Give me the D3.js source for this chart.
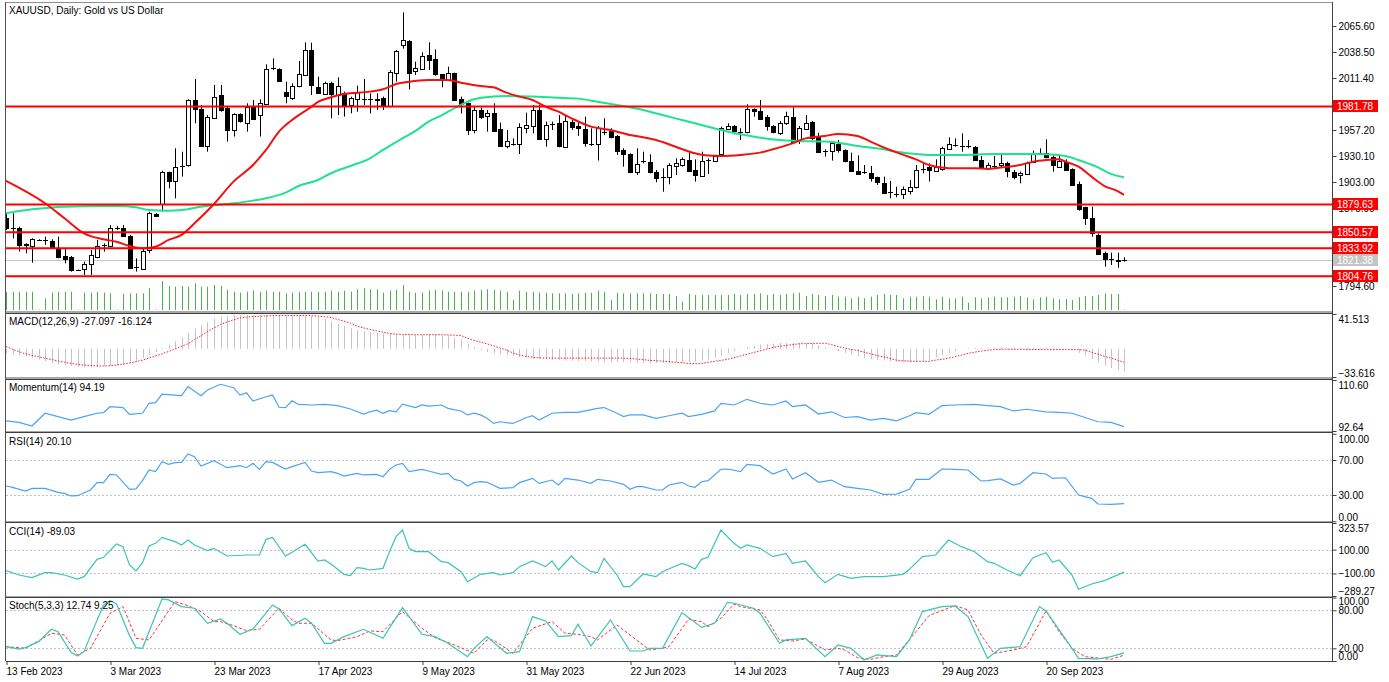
<!DOCTYPE html>
<html>
<head>
<meta charset="utf-8">
<script src="https://cdn.jsdelivr.net/npm/d3@7"></script>
<style>
body { margin: 0; background: #fff; }
svg { display: block; font-family: "Liberation Sans", Arial, sans-serif; font-size: 10px; }
</style>
</head>
<body>
<script>
// ---------- data ----------
const opens = [1865.2,1855.4,1855.4,1838.1,1835.6,1842.6,1842.6,1841.9,1833.9,1825.9,1824.5,1811.3,1812.0,1817.2,1825.2,1836.7,1836.3,1855.0,1854.7,1846.7,1814.1,1813.0,1831.5,1869.7,1880.8,1913.1,1904.1,1919.5,1920.7,1988.5,1978.8,1939.8,1970.4,1993.7,1979.8,1957.2,1973.5,1964.9,1981.5,1972.8,1984.3,2021.2,2020.8,1996.5,1991.3,2003.1,2014.5,2040.6,2001.7,1994.7,2005.8,1994.4,1995.4,1983.3,1989.5,1989.5,1989.8,1988.5,1990.9,1982.2,2017.3,2045.8,2050.0,2018.0,2020.8,2035.4,2030.9,2015.2,2009.3,2016.3,1989.2,1985.0,1957.2,1978.1,1971.8,1975.3,1958.3,1940.5,1942.6,1943.3,1959.0,1961.4,1978.1,1947.5,1963.1,1964.2,1939.8,1965.9,1961.4,1957.9,1942.9,1942.6,1955.5,1956.2,1951.0,1936.4,1932.2,1913.1,1924.9,1923.5,1913.8,1907.9,1908.6,1919.7,1920.7,1925.9,1915.5,1909.3,1925.3,1925.3,1932.2,1957.9,1961.4,1954.8,1954.4,1978.8,1977.4,1970.4,1961.4,1954.4,1964.9,1971.1,1946.8,1959.0,1965.9,1950.3,1934.6,1934.6,1942.6,1936.4,1925.3,1914.8,1913.8,1912.7,1907.9,1902.3,1891.9,1890.5,1890.2,1892.9,1897.5,1916.6,1918.3,1914.8,1916.2,1937.4,1941.6,1940.5,1940.5,1939.8,1925.9,1917.3,1919.7,1920.7,1922.5,1913.8,1909.6,1911.4,1924.2,1932.9,1933.6,1929.4,1919.0,1924.2,1916.2,1900.9,1876.6,1865.2,1847.8,1828.7,1822.4,1822.0,1821.0];
const highs = [1870.4,1870.4,1856.4,1839.1,1844.3,1843.3,1846.0,1843.3,1846.0,1833.9,1825.9,1811.8,1820.0,1832.1,1842.6,1839.1,1858.2,1857.2,1858.2,1847.8,1823.5,1833.9,1872.1,1870.4,1914.8,1913.8,1938.1,1934.6,1989.2,2010.4,1983.3,1972.8,2004.1,2004.1,1981.5,1974.6,1974.6,1985.0,1988.5,1989.2,2025.7,2031.9,2021.5,2007.6,2005.8,2029.1,2048.6,2048.2,2012.8,2007.6,2007.6,2012.1,1997.2,1992.0,2003.4,2010.4,1995.4,1995.4,1992.0,2019.7,2040.6,2079.8,2051.0,2028.4,2038.2,2048.6,2041.3,2015.6,2023.2,2017.0,1992.0,1985.7,1981.5,1980.8,1978.1,1985.0,1964.9,1957.2,1948.5,1964.2,1975.3,1983.3,1983.3,1965.9,1965.9,1972.8,1972.8,1967.6,1965.9,1971.1,1959.0,1961.4,1969.4,1959.0,1952.0,1938.1,1932.9,1938.1,1934.6,1931.9,1915.5,1917.3,1922.5,1927.7,1928.7,1933.6,1926.6,1934.6,1927.7,1931.2,1960.7,1964.2,1962.4,1959.0,1984.0,1979.8,1988.5,1972.8,1962.4,1966.6,1976.3,1980.8,1961.4,1972.8,1966.6,1954.4,1937.1,1945.8,1946.8,1937.1,1933.6,1930.8,1920.7,1919.7,1908.6,1908.6,1904.1,1898.2,1898.2,1905.1,1920.7,1922.5,1922.5,1926.6,1939.8,1949.6,1948.5,1953.7,1946.8,1940.5,1930.1,1923.2,1930.1,1931.2,1924.2,1915.5,1913.8,1924.2,1935.7,1938.1,1947.5,1932.2,1931.2,1926.6,1917.3,1903.4,1877.3,1877.3,1849.5,1830.4,1829.4,1829.4,1824.5];
const lows = [1853.0,1844.3,1830.4,1828.7,1818.9,1842.0,1837.4,1833.9,1823.5,1818.2,1809.6,1810.6,1806.1,1806.1,1823.5,1830.4,1835.6,1853.0,1846.0,1813.0,1809.6,1812.0,1828.7,1867.0,1872.1,1896.4,1886.0,1908.6,1919.0,1964.2,1939.8,1934.6,1969.4,1976.3,1945.1,1950.3,1964.9,1955.5,1968.7,1950.3,1983.3,2019.7,2007.6,1985.0,1988.5,2001.7,2013.5,1993.7,1994.7,1993.7,1969.4,1972.8,1971.1,1974.6,1976.3,1983.3,1974.6,1978.1,1978.1,1980.8,2007.6,2042.0,1999.6,2014.5,2019.7,2019.7,2013.8,2001.7,2008.3,1987.4,1974.6,1952.0,1953.7,1968.7,1955.5,1955.5,1939.8,1938.1,1940.9,1932.2,1953.7,1953.7,1947.5,1939.8,1957.2,1939.2,1939.2,1957.2,1951.0,1939.8,1940.5,1925.3,1952.0,1948.5,1931.2,1919.0,1912.1,1910.3,1922.5,1912.1,1902.7,1892.9,1900.6,1910.3,1919.0,1914.1,1903.4,1908.6,1911.4,1924.2,1931.2,1957.2,1952.7,1946.8,1953.7,1971.1,1968.4,1956.5,1953.7,1952.0,1962.4,1944.0,1942.6,1957.2,1946.8,1933.6,1929.4,1925.3,1933.6,1923.5,1913.8,1911.0,1911.4,1903.4,1899.9,1891.2,1886.0,1887.0,1885.3,1890.2,1896.4,1912.1,1903.4,1913.8,1914.8,1936.4,1939.8,1934.6,1938.1,1925.3,1916.6,1915.5,1917.3,1917.3,1907.9,1905.8,1901.6,1910.3,1923.2,1931.2,1927.7,1913.8,1918.0,1914.8,1898.8,1873.1,1858.2,1846.0,1826.9,1814.8,1816.5,1813.7,1820.0];
const closes = [1854.7,1855.0,1837.4,1836.7,1843.3,1842.8,1842.3,1834.9,1824.2,1823.1,1810.6,1811.0,1817.2,1826.9,1836.7,1836.9,1854.7,1855.4,1846.7,1813.7,1814.4,1831.5,1870.4,1867.6,1913.8,1904.1,1919.0,1919.7,1988.5,1978.8,1940.5,1970.4,1992.0,1978.1,1957.2,1973.5,1965.9,1981.5,1969.4,1985.0,2020.8,2021.5,2008.6,1992.0,2003.4,2015.2,2040.6,2004.1,1995.4,2005.8,1994.7,2003.4,1983.3,1990.2,1997.2,1989.8,1989.5,1989.5,1982.2,2018.0,2039.9,2051.0,2017.0,2021.5,2034.7,2030.2,2015.2,2010.0,2017.0,1988.5,1984.3,1957.2,1978.1,1971.1,1975.3,1956.5,1940.5,1946.1,1942.9,1960.7,1962.4,1978.1,1947.8,1962.4,1963.4,1939.8,1966.6,1960.7,1959.0,1943.3,1942.6,1959.6,1955.2,1950.3,1935.7,1932.2,1913.1,1921.4,1924.6,1913.1,1907.5,1907.6,1920.7,1922.5,1926.6,1914.8,1910.3,1924.9,1925.6,1930.1,1959.0,1961.4,1956.5,1955.1,1978.8,1977.0,1969.4,1960.7,1954.8,1964.9,1971.8,1945.1,1959.0,1964.9,1949.6,1934.6,1934.9,1943.3,1936.4,1925.3,1914.5,1912.1,1913.5,1907.5,1902.3,1891.9,1892.2,1890.2,1895.4,1897.5,1915.5,1916.9,1914.8,1919.0,1938.1,1942.6,1941.9,1940.2,1940.8,1925.9,1917.3,1920.7,1920.0,1923.2,1913.8,1908.6,1912.1,1923.2,1933.6,1933.2,1929.4,1920.7,1925.3,1915.5,1899.9,1874.5,1865.2,1849.5,1828.0,1822.4,1822.1,1821.0,1821.38];
const volumes = [180,183,183,183,183,5,117,173,183,183,183,5,173,173,183,173,167,5,160,167,167,167,217,5,290,240,233,240,233,267,233,233,250,240,200,183,173,183,193,183,193,183,183,167,173,183,183,183,183,183,193,183,193,183,207,217,207,207,173,193,200,250,183,173,173,193,200,193,183,183,183,183,193,200,207,200,193,183,100,193,183,183,173,173,167,167,167,160,167,173,173,193,183,100,173,167,167,167,167,167,160,160,160,140,83,160,150,150,150,150,150,150,160,150,160,160,167,150,160,150,160,167,173,140,160,150,140,150,133,133,117,133,117,133,150,160,150,150,117,133,133,140,133,107,133,117,117,133,73,127,117,127,133,127,127,133,140,127,107,127,133,117,107,110,100,127,140,140,150,167,160,160,5];

// moving averages, [bar, price]
const maRed = [[0,1904.1],[6,1880.8],[9,1865.2],[12,1849.5],[15,1843.3],[17,1840.8],[19,1836.3],[21,1833.9],[23,1835.6],[25,1842.6],[27,1847.8],[29,1859.9],[32,1880.1],[35,1903.4],[38,1920.7],[40,1936.4],[42,1955.5],[44,1967.6],[47,1981.5],[48,1986.5],[50,1991.3],[52,1994.7],[56,1997.2],[58,1999.6],[60,2005.1],[62,2007.6],[65,2009.3],[68,2009.3],[70,2006.5],[73,2003.1],[75,2001.7],[77,1996.1],[79,1992.0],[81,1988.5],[83,1981.5],[85,1976.3],[87,1969.4],[90,1960.7],[93,1957.2],[96,1952.0],[98,1949.6],[100,1946.8],[103,1939.8],[106,1932.9],[108,1930.5],[110,1930.1],[113,1931.2],[116,1933.6],[118,1937.1],[121,1943.3],[123,1948.5],[126,1951.0],[128,1953.0],[131,1951.0],[133,1945.1],[136,1936.4],[138,1931.5],[140,1926.6],[142,1920.7],[145,1917.3],[147,1917.3],[149,1917.3],[151,1916.6],[153,1918.0],[156,1920.7],[158,1924.2],[160,1925.9],[162,1926.6],[163,1924.2],[165,1919.0],[167,1908.6],[169,1898.8],[171,1893.6],[172,1889.5]];
const maGreen = [[0,1870.4],[4,1874.5],[9,1877.3],[15,1878.0],[17,1878.0],[20,1876.6],[22,1873.8],[25,1873.1],[27,1873.8],[30,1877.3],[35,1880.8],[38,1883.6],[40,1886.0],[43,1891.9],[45,1898.8],[48,1905.1],[50,1912.1],[53,1919.7],[56,1927.7],[58,1936.4],[61,1948.5],[63,1956.2],[65,1965.9],[67,1972.5],[70,1983.3],[72,1989.2],[75,1992.0],[77,1992.6],[81,1992.0],[85,1990.9],[88,1989.9],[91,1986.7],[95,1982.2],[98,1978.1],[101,1972.8],[104,1967.6],[107,1962.4],[110,1957.2],[113,1952.7],[116,1949.2],[119,1946.8],[122,1945.8],[126,1945.1],[128,1944.0],[131,1940.5],[135,1937.1],[137,1934.6],[140,1932.2],[142,1931.2],[147,1931.2],[152,1932.2],[158,1932.2],[160,1931.9],[163,1930.1],[165,1925.9],[168,1918.3],[170,1911.4],[172,1907.9]];

const levels = [1981.78, 1879.63, 1850.57, 1833.92, 1804.76];
const lastPrice = 1821.38;
const priceTicks = [2065.6, 2038.5, 2011.4, 1984.3, 1957.2, 1930.1, 1903.0, 1875.9, 1848.8, 1821.7, 1794.6];

const macdMain = [-6,-7,-8,-9,-11,-13,-15,-17,-18.5,-19.5,-20.5,-21.5,-22,-22,-21.5,-21,-20,-19.5,-18.5,-17,-15,-11,-7,-4,1,5,9,14,19,24,28,32,36,38.5,39.5,40,40.2,40.3,40.2,40.3,40.2,40.1,40,40,40,40,40,39,38,35.5,33,30,27,24.5,22,21,20,19,18.5,17.8,17,17,16.9,16.8,16.8,16.8,16.8,16,15,13.5,11,6,2,-2,-4,-5.5,-6.5,-7.5,-8.5,-9.5,-10.5,-11.5,-12,-12.5,-13,-13.5,-14,-14.2,-14.5,-14.8,-15,-15.3,-15.5,-15.7,-15.8,-16,-16.3,-16.5,-16.7,-17,-17,-17,-16.8,-16.5,-16.3,-16,-15,-14,-13,-10.5,-8,-5.5,-3,-0.5,2,3.5,5,6,6.5,7,7,7,6.8,6.5,6,4,2,-0.5,-3,-5,-7,-9,-11,-12.5,-13.5,-14,-15,-15.8,-16,-16,-15.5,-15,-13,-10,-7.5,-5,-3,0,0.8,1,1,1.2,1.2,1.2,1,1,1,1,1,1.2,1.5,1,0.5,0,-1.5,-5,-8,-12,-16,-20,-23,-25.5,-27.097];
const macdSignal = [2.8,-0.5,-3.5,-6,-7.8,-9.5,-11.1,-12.8,-14.5,-16,-17.3,-18.5,-19.4,-20,-20.4,-20.5,-20.1,-19.3,-18.3,-16.8,-15.3,-13.5,-11.1,-8.5,-6,-3.2,-0.2,2.9,6.1,11,15.5,20.5,25,29,32,34.5,36.7,37.8,38.4,38.7,39.2,39.6,39.7,39.7,39.7,39.7,39.7,39.5,39,38.3,37.5,35,33,30.5,27,25,23,21.5,19.8,18.3,17.5,17.2,16.9,16.8,16.8,16.8,16.8,16.8,16.5,16.2,15.9,12.5,10,8,6,3.5,1,-1.5,-5,-7.5,-9,-10,-10.8,-11.1,-11.1,-11.1,-11.1,-11.1,-11.1,-11.1,-11.1,-11.1,-11.1,-11.1,-11.1,-11.1,-11.5,-12.2,-13,-13.7,-14.3,-14.6,-15.3,-16,-16.6,-17.5,-17.8,-17.5,-16,-15,-13.8,-12.5,-10.7,-8.5,-6.5,-4.5,-2.5,-0.5,1.5,3,4,5,6,6.2,6.4,6.6,6.6,5,2.8,1,-0.8,-2,-4,-6,-8,-9.6,-11.5,-13.5,-14.4,-14.7,-14.9,-15,-14.9,-13.5,-12.5,-11.1,-9.5,-7.5,-5.5,-4,-2.8,-1.8,-1,-0.6,-0.4,-0.5,-0.6,-0.7,-0.8,-0.9,-0.9,-0.9,-0.9,-0.9,-0.9,-0.9,-1.5,-4.1,-6.5,-9,-11.1,-13.5,-16.124];

const momentum = [[0,96.2],[2,95.7],[4,94.4],[6,98.9],[8,97.7],[10,96.5],[12,97.7],[14,98.9],[15,99.1],[16,101.2],[18,100.9],[19,98.5],[21,98.9],[22,102.4],[23,102.6],[24,105.6],[26,105.3],[27,105.1],[28,108.3],[30,105.1],[31,107.1],[33,109.1],[35,107.9],[36,105.3],[37,106.1],[38,103.2],[40,104.7],[41,105.3],[42,101.0],[43,100.9],[44,103.3],[45,102.0],[47,101.8],[49,102.0],[51,101.6],[53,100.4],[55,98.6],[56,99.4],[57,100.0],[58,98.9],[59,99.8],[60,99.4],[61,102.1],[63,100.9],[64,101.8],[65,101.4],[67,101.8],[68,100.6],[70,99.7],[71,98.3],[72,98.9],[73,98.3],[74,97.1],[75,95.3],[76,95.9],[78,95.3],[80,97.3],[81,98.0],[82,96.5],[84,98.9],[86,99.2],[88,99.2],[91,100.6],[92,100.9],[94,98.9],[95,97.7],[96,98.3],[98,98.3],[100,97.1],[102,98.0],[104,98.9],[105,97.7],[107,98.5],[109,99.7],[110,102.4],[112,101.8],[114,103.8],[116,102.4],[118,101.8],[120,103.2],[121,101.2],[123,101.8],[125,98.6],[127,99.4],[129,97.4],[131,97.7],[133,96.5],[135,97.1],[137,96.2],[139,98.0],[140,99.1],[142,98.5],[144,101.6],[146,101.8],[149,102.0],[151,101.6],[153,101.2],[155,99.7],[157,100.3],[160,99.4],[162,99.2],[164,98.9],[166,97.4],[168,95.9],[170,95.7],[172,94.19]];
const rsi = [[0,40.3],[1,38.8],[3,34.5],[4,37.6],[6,37.6],[8,33.0],[9,31.9],[10,28.9],[11,29.2],[13,35.7],[14,44.1],[15,44.1],[16,53.6],[17,52.9],[19,36.5],[20,36.9],[21,46.4],[22,58.6],[23,56.7],[24,68.1],[25,65.0],[26,66.9],[27,67.3],[28,76.9],[29,73.8],[30,63.1],[32,69.2],[34,61.2],[35,62.4],[36,63.5],[37,61.2],[38,66.2],[39,59.3],[40,68.1],[41,67.3],[43,59.7],[44,62.4],[46,67.3],[47,57.4],[48,55.5],[50,56.7],[51,54.8],[52,51.7],[54,54.8],[55,52.9],[57,53.6],[58,50.9],[59,59.3],[60,64.3],[61,66.2],[62,56.7],[64,59.3],[65,57.4],[67,53.6],[68,54.8],[69,47.9],[70,46.0],[71,40.3],[72,44.1],[73,45.2],[74,44.5],[76,37.6],[78,38.4],[79,44.1],[81,49.0],[82,43.3],[84,47.1],[85,41.4],[86,49.0],[88,47.1],[90,43.3],[91,47.9],[93,46.0],[95,42.2],[96,36.5],[97,39.5],[98,39.5],[100,35.7],[101,35.7],[102,41.4],[104,44.5],[105,40.3],[106,38.8],[107,45.2],[108,46.4],[110,59.3],[111,59.7],[113,56.7],[114,65.0],[116,63.5],[118,54.0],[120,59.7],[121,48.3],[123,55.5],[125,44.5],[127,47.1],[129,39.5],[131,37.6],[133,35.7],[135,30.8],[137,31.1],[139,36.5],[140,47.9],[142,47.9],[144,59.7],[146,59.3],[148,58.6],[150,46.0],[151,46.4],[153,48.3],[155,41.4],[156,43.3],[158,55.5],[160,54.0],[161,49.0],[163,49.7],[165,30.0],[167,26.2],[168,19.7],[170,19.3],[172,20.1]];
const cci = [[0,-76.5],[2,-112.9],[4,-135.3],[6,-93.3],[7,-93.3],[9,-112.9],[11,-146.5],[12,-126.9],[14,18.6],[15,35.4],[17,147.3],[18,124.9],[19,-28.9],[20,-79.3],[21,-9.4],[22,130.5],[23,152.9],[24,203.2],[26,167.0],[27,138.9],[28,181.0],[29,138.9],[31,91.3],[32,110.9],[34,46.6],[37,55.0],[39,55.0],[40,186.5],[41,203.2],[43,46.6],[44,77.3],[46,144.5],[48,4.6],[49,13.0],[50,-20.6],[52,-107.3],[53,-118.5],[54,-51.4],[55,-57.0],[56,-71.0],[58,-57.0],[59,83.0],[60,208.9],[61,264.8],[62,111.0],[63,83.0],[65,83.0],[67,-0.9],[68,-9.4],[70,-84.9],[71,-168.9],[73,-107.3],[75,-93.3],[76,-112.9],[78,-93.3],[79,-43.0],[81,4.6],[83,-43.0],[84,4.6],[85,-71.0],[87,46.6],[88,-9.4],[90,-84.9],[91,-93.3],[92,26.9],[94,-112.9],[95,-210.8],[96,-210.8],[98,-104.5],[100,-126.9],[101,-84.9],[103,-37.4],[104,-15.0],[105,-34.6],[106,-62.5],[107,18.6],[108,35.4],[110,264.8],[112,152.9],[113,110.9],[114,138.9],[116,110.9],[118,41.0],[120,68.9],[121,-14.9],[123,4.6],[125,-126.9],[126,-177.3],[128,-107.3],[130,-140.9],[132,-126.9],[135,-126.9],[138,-107.3],[139,-65.3],[141,41.0],[143,55.0],[145,181.0],[147,124.9],[149,83.0],[151,-0.9],[152,-15.0],[154,-71.0],[156,-118.5],[158,32.6],[160,74.5],[161,-6.6],[162,13.0],[164,-112.9],[165,-233.2],[167,-188.5],[169,-160.5],[172,-89.03]];
const stochMain = [[0,22.6],[2,18.9],[3,21.1],[5,30.5],[7,50.0],[8,46.3],[10,13.7],[11,7.9],[12,14.7],[13,40],[15,88],[16,95],[17,90],[18,65],[19,40],[20,21.1],[21,20.0],[24,97.9],[25,96.3],[27,85.8],[29,83.2],[31,59.5],[33,66.3],[34,59.5],[36,42.1],[38,50.5],[41,88.4],[42,82.1],[44,55.8],[46,67.4],[47,59.5],[49,27.9],[50,27.9],[52,38.4],[55,50.0],[58,35.8],[61,84.2],[64,42.1],[66,38.4],[68,27.9],[71,6.8],[72,20.0],[74,38.4],[77,12.1],[79,14.7],[81,70.0],[83,63.2],[85,38.4],[87,40.0],[88,57.9],[90,23.7],[93,64.7],[96,15.8],[98,15.8],[99,20.0],[101,20.0],[104,76.3],[105,68.5],[107,53],[109,59.5],[111,92.6],[112,91.1],[115,83.2],[116,75.3],[119,27.9],[120,33.2],[123,35.8],[126,6.8],[128,25.3],[130,20.0],[132,1.6],[134,9.5],[137,6.8],[139,33.2],[141,77.9],[144,85.8],[146,86.8],[148,70.0],[151,4.2],[153,20.0],[156,22.6],[159,85.8],[160,78.9],[164,20.0],[165,4.2],[168,3.2],[170,6.8],[172,12.74]];
const stochSignal = [[0,22.6],[3,20.0],[7,43.7],[9,41.1],[11,9.5],[13,20.0],[16,75.3],[18,85.8],[20,35.8],[22,33.2],[26,93.7],[28,87.4],[30,77.9],[32,62.1],[33,62.1],[35,55.8],[37,47.9],[39,50.0],[42,83.2],[44,64.7],[45,59.5],[47,59.5],[50,33.2],[51,32.1],[54,38.4],[56,47.4],[58,46.3],[61,77.9],[64,51.6],[66,36.8],[69,25.3],[72,12.1],[74,33.2],[75,33.2],[78,12.1],[81,51.6],[84,62.1],[86,43.7],[88,42.1],[90,38.4],[91,33.2],[94,56.8],[97,33.2],[99,17.4],[101,20.0],[102,22.6],[105,66],[107,62],[108,54.2],[110,67.4],[112,89.5],[113,85.8],[116,80.5],[117,67.4],[119,33.2],[121,31.6],[123,34.7],[126,17.4],[128,20.0],[129,17.4],[131,5.3],[133,2.6],[135,6.8],[137,9.5],[140,46.3],[142,71.6],[146,87.4],[148,80.5],[150,41.1],[152,12.1],[155,17.4],[157,22.6],[160,78.9],[162,46.3],[164,20.0],[166,6.8],[170,2.6],[172,9.25]];

const dateLabels = ["13 Feb 2023","3 Mar 2023","23 Mar 2023","17 Apr 2023","9 May 2023","31 May 2023","22 Jun 2023","14 Jul 2023","7 Aug 2023","29 Aug 2023","20 Sep 2023"];
const dateBars = [0,16,32,48,64,80,96,112,128,144,160];

// ---------- layout ----------
const W = 1389, H = 682;
const xL = 6, xR = 1332;
const n = closes.length;

const svg = d3.select("body").append("svg")
    .attr("width", W)
    .attr("height", H);

const x = d3.scaleLinear().domain([0, n - 1]).range([6, 6 + 6.5 * (n - 1)]);
const px = i => Math.round(x(i)) + 0.5;   // crisp 1px lines

// panels: top / bottom of the drawing area
const panels = [
    {name: "main", top: 3, bottom: 311},
    {name: "macd", top: 314, bottom: 377},
    {name: "mom", top: 380, bottom: 431},
    {name: "rsi", top: 433, bottom: 521},
    {name: "cci", top: 523, bottom: 596},
    {name: "sto", top: 598, bottom: 661}
];

const yMain = d3.scaleLinear().domain([1794.6, 2065.6]).range([286, 26]);
const yVol = d3.scaleLinear().domain([0, 300]).range([310, 280]);
const yMacd = d3.scaleLinear().domain([-33.616, 41.513]).range([377, 314]);
const yMom = d3.scaleLinear().domain([92.64, 110.60]).range([431, 380]);
const yRsi = d3.scaleLinear().domain([0, 100]).range([521.25, 433.75]);
const yCci = d3.scaleLinear().domain([-289.27, 323.57]).range([596, 523]);
const ySto = d3.scaleLinear().domain([0, 100]).range([661, 597.6]);

const defs = svg.append("defs");
panels.forEach(p => {
    defs.append("clipPath").attr("id", "clip-" + p.name)
        .append("rect")
        .attr("x", xL).attr("y", p.top)
        .attr("width", xR - xL).attr("height", p.bottom - p.top);
});
const layer = name => svg.append("g").attr("clip-path", "url(#clip-" + name + ")");

// ---------- main panel ----------
const gMain = layer("main");

// volumes
gMain.selectAll("line.vol")
    .data(volumes)
    .enter()
    .append("line")
    .attr("x1", (d, i) => px(i)).attr("x2", (d, i) => px(i))
    .attr("y1", yVol(0)).attr("y2", d => yVol(d))
    .attr("stroke", "#4fae4f")
    .attr("stroke-width", 1);

// last price line
gMain.append("line")
    .attr("x1", xL).attr("x2", xR)
    .attr("y1", Math.round(yMain(lastPrice)) + 0.5).attr("y2", Math.round(yMain(lastPrice)) + 0.5)
    .attr("stroke", "#c8c8c8");

// candles
const candle = gMain.selectAll("g.candle")
    .data(d3.range(n))
    .enter()
    .append("g");

candle.append("line")
    .attr("x1", i => px(i)).attr("x2", i => px(i))
    .attr("y1", i => yMain(highs[i])).attr("y2", i => yMain(lows[i]))
    .attr("stroke", "#000");

candle.append("rect")
    .attr("x", i => px(i) - 2)
    .attr("width", 4)
    .attr("y", i => Math.round(yMain(Math.max(opens[i], closes[i]))) + 0.5)
    .attr("height", i => Math.max(0.01, Math.round(Math.abs(yMain(opens[i]) - yMain(closes[i])))))
    .attr("fill", i => closes[i] >= opens[i] ? "#fff" : "#000")
    .attr("stroke", "#000");

// moving averages
const maLine = d3.line()
    .x(d => x(d[0]))
    .y(d => yMain(d[1]))
    .curve(d3.curveMonotoneX);

gMain.append("path").attr("d", maLine(maGreen))
    .attr("fill", "none").attr("stroke", "#1ee38e").attr("stroke-width", 2);
gMain.append("path").attr("d", maLine(maRed))
    .attr("fill", "none").attr("stroke", "#f21010").attr("stroke-width", 2);

// horizontal levels
gMain.selectAll("line.level")
    .data(levels)
    .enter()
    .append("line")
    .attr("x1", xL).attr("x2", xR)
    .attr("y1", d => yMain(d)).attr("y2", d => yMain(d))
    .attr("stroke", "#ff0000")
    .attr("stroke-width", 2);

// ---------- MACD ----------
const gMacd = layer("macd");
gMacd.selectAll("line")
    .data(macdMain)
    .enter()
    .append("line")
    .attr("x1", (d, i) => px(i)).attr("x2", (d, i) => px(i))
    .attr("y1", yMacd(0)).attr("y2", d => yMacd(d))
    .attr("stroke", "#c4c4c4");

gMacd.append("path")
    .attr("d", d3.line().x((d, i) => x(i)).y(d => yMacd(d))(macdSignal))
    .attr("fill", "none").attr("stroke", "#ff2020").attr("stroke-dasharray", "1.5,1.5");

// ---------- levels in oscillators ----------
function levelLines(g, scale, vals) {
    g.selectAll("line.lvl")
        .data(vals)
        .enter()
        .append("line")
        .attr("x1", xL).attr("x2", xR)
        .attr("y1", d => Math.round(scale(d)) + 0.5).attr("y2", d => Math.round(scale(d)) + 0.5)
        .attr("stroke", "#c0c0c0").attr("stroke-dasharray", "2,2");
}

function indLine(g, data, scale, color, dash, width) {
    g.append("path")
        .attr("d", d3.line().x(d => x(d[0])).y(d => scale(d[1]))(data))
        .attr("fill", "none")
        .attr("stroke", color)
        .attr("stroke-width", width || 1.2)
        .attr("stroke-dasharray", dash || null);
}

const gMom = layer("mom");
indLine(gMom, momentum, yMom, "#4ba3f2");

const gRsi = layer("rsi");
levelLines(gRsi, yRsi, [70, 30]);
indLine(gRsi, rsi, yRsi, "#4ba3f2");

const gCci = layer("cci");
levelLines(gCci, yCci, [100, -100]);
indLine(gCci, cci, yCci, "#3cc4b4");

const gSto = layer("sto");
levelLines(gSto, ySto, [80, 20]);
indLine(gSto, stochSignal, ySto, "#ff3030", "3,2", 1);
indLine(gSto, stochMain, ySto, "#3cc4b4");

// ---------- frame & separators ----------
svg.append("line").attr("x1", xL - 0.5).attr("x2", xL - 0.5).attr("y1", 2).attr("y2", 661)
    .attr("stroke", "#505050");
svg.append("line").attr("x1", xL).attr("x2", xR).attr("y1", 2.5).attr("y2", 2.5)
    .attr("stroke", "#909090");
panels.slice(0, -1).forEach((p, k) => {
    const next = panels[k + 1];
    svg.append("rect")
        .attr("x", xL).attr("y", p.bottom)
        .attr("width", xR - xL).attr("height", next.top - p.bottom)
        .attr("fill", "#a8a8a8");
    svg.append("line").attr("x1", xL).attr("x2", xR)
        .attr("y1", next.top - 0.5).attr("y2", next.top - 0.5)
        .attr("stroke", "#404040");
});
svg.append("line").attr("x1", xR + 0.5).attr("x2", xR + 0.5).attr("y1", 2).attr("y2", 662)
    .attr("stroke", "#404040");
svg.append("line").attr("x1", xL).attr("x2", xR).attr("y1", 661.5).attr("y2", 661.5)
    .attr("stroke", "#404040");

// ---------- right axes ----------
function rightAxis(scale, vals, fmt, shifts) {
    const g = svg.append("g")
        .attr("transform", "translate(" + (xR + 0.5) + ",0)")
        .call(d3.axisRight(scale).tickValues(vals).tickSize(4).tickPadding(2).tickFormat(fmt));
    g.select(".domain").remove();
    g.selectAll("line").attr("stroke", "#404040");
    g.selectAll("text")
        .attr("fill", "#000")
        .attr("font-family", "Liberation Sans, Arial, sans-serif")
        .attr("font-size", 10)
        .attr("dy", (d, i) => ((shifts ? shifts[i] : 0) + 3.5) + "px");
    return g;
}

rightAxis(yMain, priceTicks, d3.format(".2f"));
rightAxis(yMacd, [41.513, -33.616], d3.format(".3f"), [5, -4]);
rightAxis(yMom, [110.60, 92.64], d3.format(".2f"), [5, -4]);
rightAxis(yRsi, [100, 70, 30, 0], d3.format(".2f"), [5, 0, 0, -4]);
rightAxis(yCci, [323.57, 100, -100, -289.27], d3.format(".2f"), [5, 0, 0, -5]);
rightAxis(ySto, [100, 80, 20, 0], d3.format(".2f"), [3, 0, 0, -5]);

// price labels for the levels
const tags = levels.map(v => ({v: v, bg: "#ff0000"})).concat([{v: lastPrice, bg: "#c4c4c4"}]);
const tag = svg.selectAll("g.tag")
    .data(tags)
    .enter()
    .append("g")
    .attr("transform", d => "translate(" + (xR + 1) + "," + Math.round(yMain(d.v)) + ")");
tag.append("rect")
    .attr("x", 0).attr("y", -6).attr("width", 45).attr("height", 12)
    .attr("fill", d => d.bg);
tag.append("text")
    .attr("x", 4).attr("y", 0).attr("dy", "0.35em")
    .attr("fill", "#fff")
    .text(d => d.v.toFixed(2));

// ---------- time axis ----------
const gx = svg.append("g")
    .attr("transform", "translate(0,661)")
    .call(d3.axisBottom(x).tickValues(dateBars).tickSize(4).tickPadding(3)
        .tickFormat((d, i) => dateLabels[i]));
gx.select(".domain").remove();
gx.selectAll("line").attr("stroke", "#404040").attr("transform", d => "translate(" + (px(d) - x(d)) + ",0)");
gx.selectAll("text")
    .attr("text-anchor", "start")
    .attr("fill", "#000")
    .attr("font-family", "Liberation Sans, Arial, sans-serif")
    .attr("font-size", 10);

// ---------- titles ----------
const titles = [
    {t: "XAUUSD, Daily:  Gold vs US Dollar", y: 14},
    {t: "MACD(12,26,9) -27.097 -16.124", y: 325},
    {t: "Momentum(14) 94.19", y: 391},
    {t: "RSI(14) 20.10", y: 445},
    {t: "CCI(14) -89.03", y: 535},
    {t: "Stoch(5,3,3) 12.74 9.25", y: 609}
];
svg.selectAll("text.title")
    .data(titles)
    .enter()
    .append("text")
    .attr("x", 9)
    .attr("y", d => d.y)
    .attr("fill", "#000")
    .text(d => d.t);
</script>
</body>
</html>
